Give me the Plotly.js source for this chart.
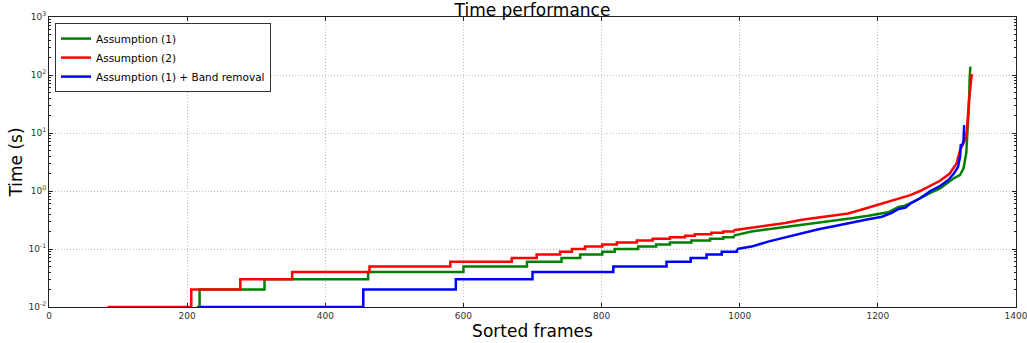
<!DOCTYPE html>
<html>
<head>
<meta charset="utf-8">
<script src="https://cdn.plot.ly/plotly-3.0.1.min.js"></script>
<style>html,body{margin:0;padding:0;background:#fff;}#chart{width:1027px;height:343px;}</style>
</head>
<body>
<div id="chart"></div>
<script>
// ---- Data ----
const seriesNames = ["Assumption (1)", "Assumption (2)", "Assumption (1) + Band removal"];

// Assumption (1): quantised (stepped) part, then the smooth tail
const a1StepFrames = [214, 218, 312, 462, 600, 692, 742, 769, 801, 819, 853, 879, 899, 930, 957, 976, 991];
const a1StepTimes  = [0.01, 0.02, 0.03, 0.04, 0.05, 0.06, 0.07, 0.08, 0.09, 0.10, 0.11, 0.12, 0.13, 0.14, 0.15, 0.16, 0.17];
const a1TailFrames = [991, 1017, 1041, 1066, 1090, 1114, 1138, 1162, 1186, 1215, 1230, 1239, 1247, 1261, 1276, 1290, 1300, 1310, 1319, 1324, 1328, 1330, 1332, 1333, 1334];
const a1TailTimes  = [0.17, 0.20, 0.22, 0.24, 0.26, 0.28, 0.31, 0.34, 0.375, 0.43, 0.53, 0.56, 0.61, 0.75, 0.93, 1.11, 1.36, 1.66, 1.89, 2.46, 4.5, 10, 33, 93, 139];

// Assumption (2)
const a2StepFrames = [85, 206, 277, 352, 464, 581, 670, 706, 740, 757, 776, 801, 822, 851, 874, 899, 921, 935, 959, 976, 991];
const a2StepTimes  = [0.01, 0.02, 0.03, 0.04, 0.05, 0.06, 0.07, 0.08, 0.09, 0.10, 0.11, 0.12, 0.13, 0.14, 0.15, 0.16, 0.17, 0.18, 0.19, 0.20, 0.21];
const a2TailFrames = [991, 1017, 1041, 1066, 1090, 1114, 1138, 1157, 1177, 1196, 1215, 1232, 1247, 1261, 1276, 1290, 1304, 1314, 1319, 1326, 1329, 1332, 1336];
const a2TailTimes  = [0.21, 0.23, 0.25, 0.28, 0.32, 0.35, 0.38, 0.41, 0.48, 0.56, 0.64, 0.74, 0.85, 1.0, 1.22, 1.5, 2.0, 3.0, 5.0, 7.6, 11, 37, 104];

// Assumption (1) + Band removal
const a3StepFrames = [218, 455, 589, 700, 817, 894, 929, 952, 974, 996];
const a3StepTimes  = [0.01, 0.02, 0.03, 0.04, 0.05, 0.06, 0.07, 0.08, 0.09, 0.10];
const a3TailFrames = [996, 1017, 1041, 1066, 1090, 1114, 1138, 1162, 1186, 1206, 1220, 1230, 1240, 1247, 1261, 1276, 1290, 1302, 1310, 1316, 1319, 1320, 1323, 1324, 1325];
const a3TailTimes  = [0.10, 0.11, 0.134, 0.159, 0.187, 0.219, 0.25, 0.288, 0.325, 0.36, 0.42, 0.49, 0.52, 0.61, 0.75, 1.0, 1.22, 1.55, 2.0, 2.6, 3.9, 6.2, 6.4, 7.6, 13.7];

const xTickVals = [0, 200, 400, 600, 800, 1000, 1200, 1400];
const xTickText = ["0", "200", "400", "600", "800", "1000", "1200", "1400"];
const yTickVals = [0.01, 0.1, 1, 10, 100, 1000];
const yTickText = ["10<sup>-2</sup>", "10<sup>-1</sup>", "10<sup>0</sup>", "10<sup>1</sup>", "10<sup>2</sup>", "10<sup>3</sup>"];
const yMinorVals = [0.02,0.03,0.04,0.05,0.06,0.07,0.08,0.09,0.2,0.3,0.4,0.5,0.6,0.7,0.8,0.9,2,3,4,5,6,7,8,9,20,30,40,50,60,70,80,90,200,300,400,500,600,700,800,900];

// ---- Styles ----
const colors = ["#008000", "#ff0000", "#0000ff"];
const LW = 2.5;

function pair(name, color, sx, sy, tx, ty, grp) {
  return [
    {x: sx, y: sy, type: "scatter", mode: "lines", name: name, legendgroup: grp,
     line: {color: color, width: LW, shape: "hv"}, hoverinfo: "x+y"},
    {x: tx, y: ty, type: "scatter", mode: "lines", name: name, legendgroup: grp, showlegend: false,
     line: {color: color, width: LW, shape: "linear"}, hoverinfo: "x+y"}
  ];
}

const data = [].concat(
  pair(seriesNames[0], colors[0], a1StepFrames, a1StepTimes, a1TailFrames, a1TailTimes, "g1"),
  pair(seriesNames[1], colors[1], a2StepFrames, a2StepTimes, a2TailFrames, a2TailTimes, "g2"),
  pair(seriesNames[2], colors[2], a3StepFrames, a3StepTimes, a3TailFrames, a3TailTimes, "g3")
);

const FONT = "DejaVu Sans, Liberation Sans, sans-serif";
const axisCommon = {
  showline: true, linecolor: "#222", linewidth: 1, mirror: "ticks",
  ticks: "inside", ticklen: 4, tickcolor: "#222", tickwidth: 1,
  showgrid: true, gridcolor: "#bdbdbd", griddash: "1px,2px", gridwidth: 1,
  zeroline: false, tickfont: {family: FONT, size: 9, color: "#333"},
  ticklabeloverflow: "allow"
};

const layout = {
  width: 1027, height: 343,
  margin: {l: 49, r: 11, t: 17, b: 36},
  paper_bgcolor: "#fff", plot_bgcolor: "#fff",
  font: {family: FONT},
  title: {text: "Time performance", font: {family: FONT, size: 17, color: "#000"},
          x: 0.5, xref: "paper", y: 0.972, yref: "container", yanchor: "middle"},
  xaxis: Object.assign({}, axisCommon, {
    range: [0, 1400], tickmode: "array", tickvals: xTickVals, ticktext: xTickText,
    title: {text: "Sorted frames", font: {family: FONT, size: 17, color: "#000"}, standoff: 4}
  }),
  yaxis: Object.assign({}, axisCommon, {
    type: "log", range: [-2, 3], tickmode: "array", tickvals: yTickVals, ticktext: yTickText,
    minor: {ticks: "inside", ticklen: 2, tickcolor: "#222", showgrid: false,
            tickmode: "array", tickvals: yMinorVals},
    title: {text: "Time (s)", font: {family: FONT, size: 17, color: "#000"}, standoff: 1}
  }),
  showlegend: true,
  legend: {x: 0.0062, y: 0.979, xanchor: "left", yanchor: "top",
           bgcolor: "#fff", bordercolor: "#333", borderwidth: 1,
           font: {family: FONT, size: 10.5, color: "#000"}, itemwidth: 30, tracegroupgap: 0}
};

Plotly.newPlot("chart", data, layout, {staticPlot: true, displayModeBar: false});
</script>
</body>
</html>
